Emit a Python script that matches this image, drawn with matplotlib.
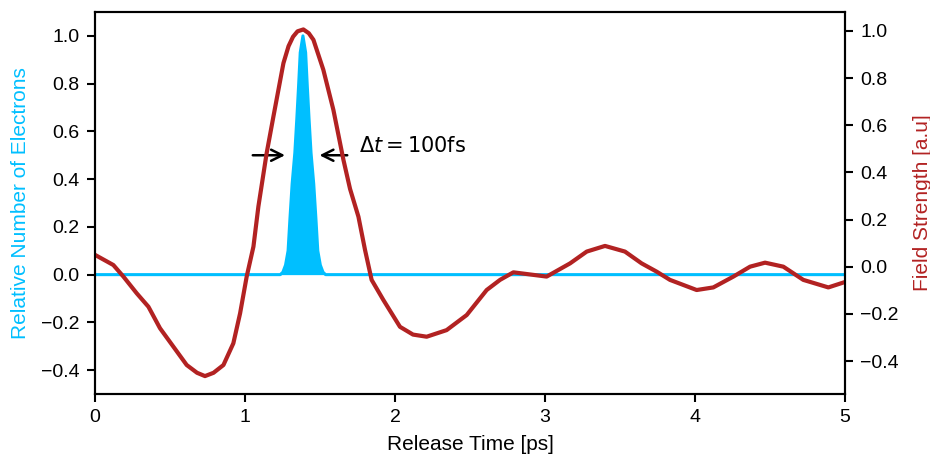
import numpy as np
import matplotlib.pyplot as plt

plt.rcParams['font.family'] = ['Liberation Sans', 'DejaVu Sans']

# electron release distribution
release_t = [0.0, 1.235, 1.252, 1.270, 1.287, 1.300, 1.314, 1.332, 1.345, 1.357, 1.368,
             1.386, 1.404, 1.415, 1.427, 1.440, 1.458, 1.472, 1.485, 1.502, 1.520, 1.537, 5.0]
electrons = [0.0, 0.0, 0.01, 0.04, 0.10, 0.24, 0.38, 0.51, 0.65, 0.79, 0.93,
             1.0, 0.93, 0.79, 0.65, 0.51, 0.38, 0.24, 0.10, 0.04, 0.01, 0.0, 0.0]

# THz field trace
field_t = [0.0, 0.122, 0.189, 0.278, 0.356, 0.433, 0.522, 0.611, 0.680, 0.733, 0.790, 0.856,
           0.922, 0.967, 1.011, 1.056, 1.089, 1.144, 1.189, 1.256, 1.290, 1.320, 1.350,
           1.389, 1.425, 1.456, 1.522, 1.589, 1.656, 1.7, 1.756, 1.8, 1.844, 1.922, 2.033,
           2.12, 2.211, 2.344, 2.478, 2.611, 2.7, 2.789, 3.011, 3.167, 3.278, 3.4, 3.533,
           3.644, 3.744, 3.833, 4.011, 4.122, 4.256, 4.367, 4.467, 4.589, 4.722, 4.889, 5.0]
field = [0.05, 0.007, -0.042, -0.113, -0.17, -0.261, -0.339, -0.417, -0.450, -0.464, -0.450, -0.417,
         -0.325, -0.198, -0.042, 0.085, 0.255, 0.481, 0.636, 0.863, 0.935, 0.975, 0.998,
         1.006, 0.990, 0.962, 0.835, 0.665, 0.453, 0.33, 0.212, 0.071, -0.056, -0.141, -0.255,
         -0.288, -0.297, -0.269, -0.205, -0.099, -0.056, -0.024, -0.042, 0.014, 0.064, 0.088, 0.064,
         0.014, -0.021, -0.056, -0.099, -0.088, -0.042, 0.0, 0.017, 0.0, -0.056, -0.088, -0.065]

blue = '#00BFFF'
red = '#B22222'

fig = plt.figure(figsize=(9.3, 4.61), dpi=100)
ax = fig.add_axes([0.1022, 0.1453, 0.8064, 0.8287])
ax.fill_between(release_t, electrons, color=blue, lw=0)
ax.plot(release_t, electrons, color=blue, lw=2.2)
ax.set_xlim(0, 5)
ax.set_ylim(-0.5, 1.1)
ax.set_yticks(np.arange(-0.4, 1.01, 0.2))
ax.set_xlabel('Release Time [ps]', fontsize=15, labelpad=6)
ax.set_ylabel('Relative Number of Electrons', color=blue, fontsize=15, labelpad=8)

ax.annotate('', xy=(1.285, 0.5), xytext=(1.033, 0.5),
            arrowprops=dict(arrowstyle='->', lw=1.8, color='black', mutation_scale=20))
ax.annotate('', xy=(1.478, 0.5), xytext=(1.70, 0.5),
            arrowprops=dict(arrowstyle='->', lw=1.8, color='black', mutation_scale=20))
ax.text(1.76, 0.54, r'$\Delta t = 100$fs', fontsize=15, va='center', family='DejaVu Sans')

ax2 = ax.twinx()
ax2.plot(field_t, field, color=red, lw=3.0, solid_joinstyle='round')
ax2.set_ylim(-0.54, 1.08)
ax2.set_yticks(np.arange(-0.4, 1.01, 0.2))
ax2.set_ylabel('Field Strength [a.u]', color=red, fontsize=15, labelpad=10)

for a in (ax, ax2):
    for s in a.spines.values():
        s.set_linewidth(1.5)
    a.tick_params(width=1.5, length=6, labelsize=14, pad=5)

fig.savefig('out.png', dpi=100)
